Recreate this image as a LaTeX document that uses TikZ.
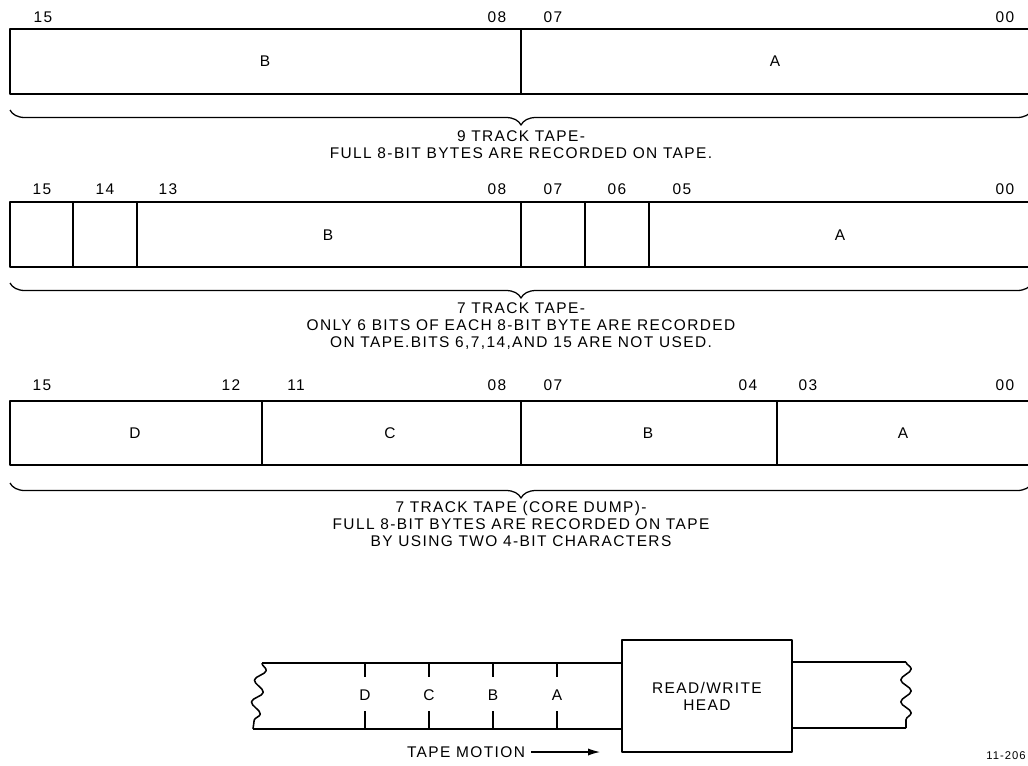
\documentclass[tikz,border=0pt]{standalone}
\usepackage{fontspec}
\setmainfont[LetterSpace=9]{Liberation Sans}
\usetikzlibrary{arrows.meta,decorations.pathreplacing,decorations.pathmorphing}

\begin{document}
\begin{tikzpicture}[x=0.025cm,y=-0.025cm,line join=round,
every node/.style={font=\fontsize{11}{12}\selectfont,align=center,inner sep=0pt},
reg/.style={draw,line width=1.2pt},
dvd/.style={draw,line width=0.8pt},
brc/.style={draw,line width=0.9pt,decorate,decoration={brace,mirror,amplitude=0.375cm}},
wavy/.style={line width=1.1pt,decorate,decoration={snake,segment length=0.55cm,amplitude=0.13cm}},
arr/.style={-{Latex[length=3mm,width=1.8mm]},line width=0.8pt}]
\clip (0,0) rectangle (1028,765);
\fill[white] (0,0) rectangle (1028,765);
\draw[reg] (10,29) rectangle (1040,94);
\draw[dvd] (521,29)--(521,94);
\node (r1n15) at (43,17) {15};
\node (r1n08) at (497,17) {08};
\node (r1n07) at (553,17) {07};
\node (r1n00) at (1005,17) {00};
\node (r1b) at (265,61) {B};
\node (r1a) at (775,61) {A};
\draw[brc] (10,110) -- (1032,110);
\node (r1t) at (521,145) {9 TRACK TAPE-\\FULL 8-BIT BYTES ARE RECORDED ON TAPE.};
\draw[reg] (10,202) rectangle (1040,267);
\foreach \x in {73,137,521,585,649} \draw[dvd] (\x,202)--(\x,267);
\node (r2n15) at (42,189) {15};
\node (r2n14) at (105,189) {14};
\node (r2n13) at (168,189) {13};
\node (r2n08) at (497,189) {08};
\node (r2n07) at (553,189) {07};
\node (r2n06) at (617,189) {06};
\node (r2n05) at (682,189) {05};
\node (r2n00) at (1005,189) {00};
\node (r2b) at (328,235) {B};
\node (r2a) at (840,235) {A};
\draw[brc] (10,283) -- (1032,283);
\node (r2t) at (521,326) {7 TRACK TAPE-\\ONLY 6 BITS OF EACH 8-BIT BYTE ARE RECORDED\\ON TAPE.BITS 6,7,14,AND 15 ARE NOT USED.};
\draw[reg] (10,401) rectangle (1040,465);
\foreach \x in {262,521,777} \draw[dvd] (\x,401)--(\x,465);
\node (r3n15) at (42,385) {15};
\node (r3n12) at (231,385) {12};
\node (r3n11) at (296,385) {11};
\node (r3n08) at (497,385) {08};
\node (r3n07) at (553,385) {07};
\node (r3n04) at (748,385) {04};
\node (r3n03) at (808,385) {03};
\node (r3n00) at (1005,385) {00};
\node (r3d) at (135,433) {D};
\node (r3c) at (390,433) {C};
\node (r3b) at (648,433) {B};
\node (r3a) at (903,433) {A};
\draw[brc] (10,483) -- (1032,483);
\node (r3t) at (521,524) {7 TRACK TAPE (CORE DUMP)-\\FULL 8-BIT BYTES ARE RECORDED ON TAPE\\BY USING TWO 4-BIT CHARACTERS};
\node[draw,line width=1.2pt,minimum width=4.25cm,minimum height=2.8cm] (hd) at (707,696) {READ/WRITE\\HEAD};
\coordinate (tl) at (262,663);
\coordinate (bl) at (253,729);
\coordinate (tr) at (906,662);
\coordinate (br) at (906,728);
\draw[wavy] (tl) -- (bl);
\draw[wavy] (tr) -- (br);
\draw[reg] (tl) -- (tl -| hd.west) (bl) -- (bl -| hd.west);
\draw[reg] (hd.east |- tr) -- (tr) (hd.east |- br) -- (br);
\foreach \x/\l in {365/D,429/C,493/B,557/A} {
  \draw[dvd] (\x,663)--(\x,677) (\x,711)--(\x,729);
  \node (tp\l) at (\x,695) {\l};
}
\node (mot) at (466,752) {TAPE MOTION};
\coordinate (me) at (600,752);
\draw[arr] ([xshift=0.15cm]mot.east) -- (me);
\node[anchor=east,font=\fontsize{8}{9}\selectfont] (dwg) at (1026,756) {11-206};
\end{tikzpicture}
\end{document}
